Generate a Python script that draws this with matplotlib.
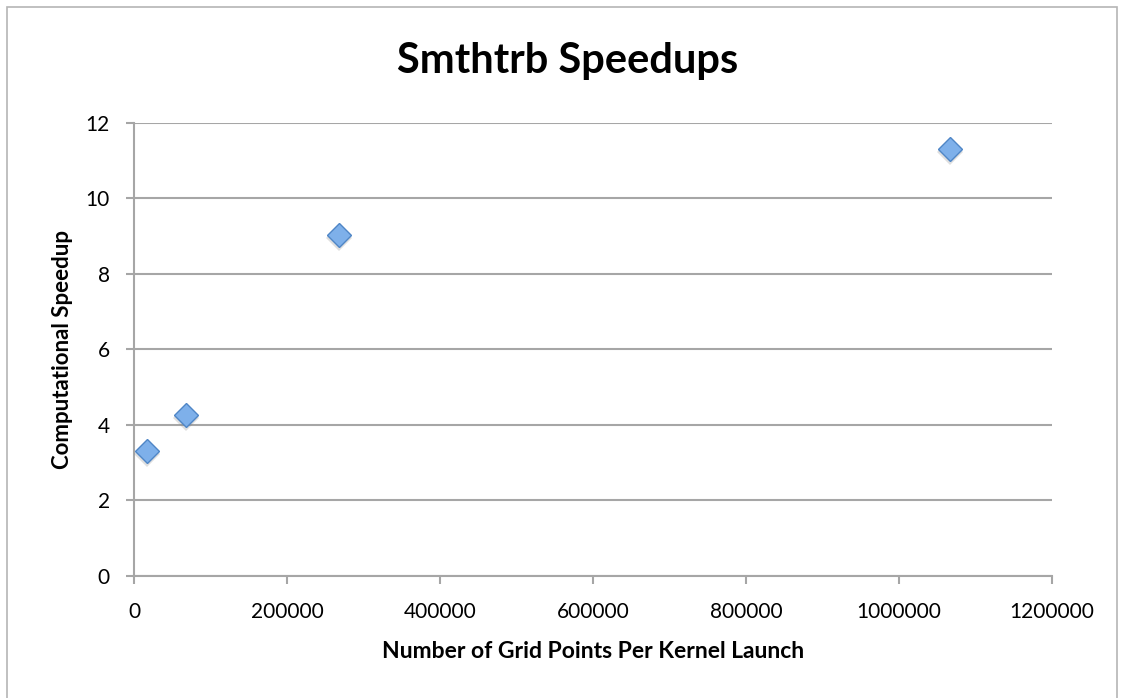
import matplotlib.pyplot as plt
from matplotlib.patches import Rectangle
from matplotlib.transforms import offset_copy

plt.rcParams["font.family"] = ["Lato", "DejaVu Sans"]

# grid points per kernel launch and the measured speedups
grid_points = [16900, 67600, 268300, 1067000]
speedup = [3.31, 4.25, 9.03, 11.31]

x_ticks = [0, 200000, 400000, 600000, 800000, 1000000, 1200000]
y_ticks = [0, 2, 4, 6, 8, 10, 12]

grey = "#a6a6a6"
tick_size = 15
label_size = 16

fig = plt.figure(figsize=(11.24, 6.98), dpi=100)
ax = fig.add_axes([0.1192, 0.1748, 0.8167, 0.6494])

# outer chart frame
fig.patches.append(
    Rectangle(
        (7 / 1124, -0.01),
        1110 / 1124,
        (698 - 7) / 698 + 0.01,
        transform=fig.transFigure,
        facecolor="none",
        edgecolor="#b5b5b5",
        linewidth=1.2,
    )
)

# soft shadow under the markers
shadow = offset_copy(ax.transData, fig=fig, x=0, y=-3, units="dots")
ax.plot(
    grid_points,
    speedup,
    linestyle="none",
    marker="D",
    markersize=13,
    color="#808080",
    alpha=0.25,
    markeredgewidth=0,
    transform=shadow,
    zorder=3,
)
ax.plot(
    grid_points,
    speedup,
    linestyle="none",
    marker="D",
    markersize=12,
    markerfacecolor="#7eb0ea",
    markeredgecolor="#4f86c6",
    markeredgewidth=1.0,
    zorder=4,
)

ax.set_xlim(0, 1200000)
ax.set_ylim(0, 12)
ax.set_xticks(x_ticks)
ax.set_yticks(y_ticks)
ax.set_xticklabels([str(v) for v in x_ticks], fontsize=tick_size)
ax.set_yticklabels([str(v) for v in y_ticks], fontsize=tick_size)

ax.yaxis.grid(True, color=grey, linewidth=1.5)
ax.set_axisbelow(True)
for side in ["top", "right"]:
    ax.spines[side].set_visible(False)
for side in ["left", "bottom"]:
    ax.spines[side].set_color(grey)
    ax.spines[side].set_linewidth(1.5)
ax.tick_params(axis="both", direction="out", length=5.5, width=1.5, color=grey)
ax.tick_params(axis="x", pad=13)
ax.tick_params(axis="y", pad=12)

ax.set_xlabel(
    "Number of Grid Points Per Kernel Launch",
    fontsize=16.5,
    fontweight="bold",
    labelpad=14,
)
ax.set_ylabel("Computational Speedup", fontsize=label_size, fontweight="bold", labelpad=9)

fig.text(
    0.505, (698 - 73) / 698, "Smthtrb Speedups",
    ha="center", va="baseline", fontsize=30, fontweight="bold",
)

plt.savefig("out.png", dpi=100)
plt.close()
